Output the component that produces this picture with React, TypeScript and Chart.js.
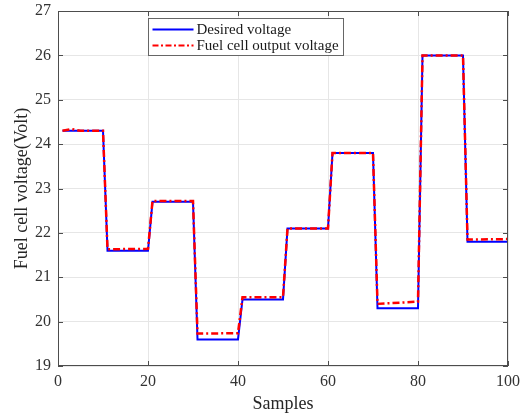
import React, { useEffect, useRef } from "react";
import { Chart, registerables } from "chart.js";

Chart.register(...registerables);

// Desired (reference) voltage: corner points of the step profile
const desiredSamples = [1, 10, 11, 20, 21, 30, 31, 40, 41, 50, 51, 60, 61, 70, 71, 80, 81, 90, 91, 100];
const desiredVolts = [24.3, 24.3, 21.6, 21.6, 22.7, 22.7, 19.6, 19.6, 20.5, 20.5, 22.1, 22.1, 23.8, 23.8, 20.3, 20.3, 26.0, 26.0, 21.8, 21.8];

// Fuel cell output voltage: tracks the reference with small offsets
const outputSamples = [1, 3, 5, 10, 11, 20, 21, 30, 31, 40, 41, 50, 51, 60, 61, 70, 71, 80, 81, 90, 91, 100];
const outputVolts = [24.3, 24.34, 24.3, 24.3, 21.63, 21.64, 22.72, 22.72, 19.73, 19.74, 20.55, 20.55, 22.1, 22.1, 23.8, 23.8, 20.4, 20.45, 26.0, 26.0, 21.85, 21.86];

const xTicks = [0, 20, 40, 60, 80, 100];
const yTicks = [19, 20, 21, 22, 23, 24, 25, 26, 27];

const legendLabels = ["Desired voltage", "Fuel cell output voltage"];

const SERIF = "'Liberation Serif', 'Times New Roman', serif";
const AXIS_COLOR = "#4d4d4d";
const TEXT_COLOR = "#333333";

const toPoints = (xs: number[], ys: number[]) => xs.map((x, i) => ({ x, y: ys[i] }));

// Box frame with inward tick marks on all four sides
const framePlugin = {
  id: "frame",
  afterDatasetsDraw(chart: any) {
    const { ctx, chartArea: a, scales } = chart;
    ctx.save();
    ctx.strokeStyle = AXIS_COLOR;
    ctx.lineWidth = 1;
    ctx.strokeRect(a.left + 0.5, a.top + 0.5, a.right - a.left - 1, a.bottom - a.top - 1);
    const len = 5;
    ctx.beginPath();
    xTicks.forEach((t) => {
      const px = Math.round(scales.x.getPixelForValue(t)) + 0.5;
      ctx.moveTo(px, a.bottom);
      ctx.lineTo(px, a.bottom - len);
      ctx.moveTo(px, a.top);
      ctx.lineTo(px, a.top + len);
    });
    yTicks.forEach((t) => {
      const py = Math.round(scales.y.getPixelForValue(t)) + 0.5;
      ctx.moveTo(a.left, py);
      ctx.lineTo(a.left + len, py);
      ctx.moveTo(a.right, py);
      ctx.lineTo(a.right - len, py);
    });
    ctx.stroke();
    ctx.restore();
  },
};

// Boxed legend in the upper part of the plot
const legendPlugin = {
  id: "boxLegend",
  afterDraw(chart: any) {
    const { ctx, chartArea: a } = chart;
    const x0 = a.left + 90.5;
    const y0 = a.top + 7.5;
    const w = 195;
    const h = 37;
    ctx.save();
    ctx.fillStyle = "#ffffff";
    ctx.fillRect(x0, y0, w, h);
    ctx.strokeStyle = "#666666";
    ctx.lineWidth = 1;
    ctx.strokeRect(x0, y0, w, h);
    const rows = [
      { color: "#0000ff", dash: [] as number[] },
      { color: "#ff0000", dash: [6, 2.5, 2, 2.5] },
    ];
    ctx.font = `15px ${SERIF}`;
    ctx.textBaseline = "middle";
    rows.forEach((r, i) => {
      const y = y0 + 11 + i * 16;
      ctx.beginPath();
      ctx.setLineDash(r.dash);
      ctx.strokeStyle = r.color;
      ctx.lineWidth = 2;
      ctx.moveTo(x0 + 4, y);
      ctx.lineTo(x0 + 45, y);
      ctx.stroke();
      ctx.setLineDash([]);
      ctx.fillStyle = "#1a1a1a";
      ctx.fillText(legendLabels[i], x0 + 48, y + 1);
    });
    ctx.restore();
  },
};

export default function App() {
  const canvasRef = useRef<HTMLCanvasElement | null>(null);

  useEffect(() => {
    document.body.style.margin = "0";
    if (!canvasRef.current) return;
    const chart = new Chart(canvasRef.current, {
      type: "line",
      data: {
        datasets: [
          {
            label: legendLabels[1],
            data: toPoints(outputSamples, outputVolts),
            borderColor: "#ff0000",
            borderWidth: 2.5,
            borderDash: [7, 3, 2, 3],
            pointRadius: 0,
            tension: 0,
            order: 0,
          },
          {
            label: legendLabels[0],
            data: toPoints(desiredSamples, desiredVolts),
            borderColor: "#0000ff",
            borderWidth: 2,
            pointRadius: 0,
            tension: 0,
            order: 1,
          },
        ],
      },
      options: {
        animation: false,
        responsive: true,
        maintainAspectRatio: false,
        layout: { padding: { top: 11, right: 19, left: 0, bottom: 0 } },
        plugins: {
          legend: { display: false },
          tooltip: { enabled: false },
        },
        scales: {
          x: {
            type: "linear",
            min: 0,
            max: 100,
            afterBuildTicks: (s: any) => {
              s.ticks = xTicks.map((v) => ({ value: v }));
            },
            afterFit: (s: any) => {
              s.height = 50;
              s.paddingLeft = 0;
              s.paddingRight = 0;
            },
            ticks: {
              color: TEXT_COLOR,
              font: { family: SERIF, size: 16 },
              padding: 6,
              maxRotation: 0,
            },
            grid: { color: "#e6e6e6", drawTicks: false },
            border: { display: false },
            title: {
              display: true,
              text: "Samples",
              color: "#262626",
              font: { family: SERIF, size: 18 },
              padding: { top: 0, bottom: 1 },
            },
          },
          y: {
            type: "linear",
            min: 19,
            max: 27,
            afterBuildTicks: (s: any) => {
              s.ticks = yTicks.map((v) => ({ value: v }));
            },
            afterFit: (s: any) => {
              s.width = 58;
              s.paddingTop = 0;
              s.paddingBottom = 0;
            },
            ticks: {
              color: TEXT_COLOR,
              font: { family: SERIF, size: 16 },
              padding: 7,
            },
            grid: { color: "#e6e6e6", drawTicks: false },
            border: { display: false },
            title: {
              display: true,
              text: "Fuel cell voltage(Volt)",
              color: "#262626",
              font: { family: SERIF, size: 18 },
              padding: { top: 11, bottom: 0 },
            },
          },
        },
      },
      plugins: [framePlugin, legendPlugin],
    });
    return () => chart.destroy();
  }, []);

  return (
    <div style={{ position: "relative", width: 527, height: 416 }}>
      <canvas ref={canvasRef} />
    </div>
  );
}
